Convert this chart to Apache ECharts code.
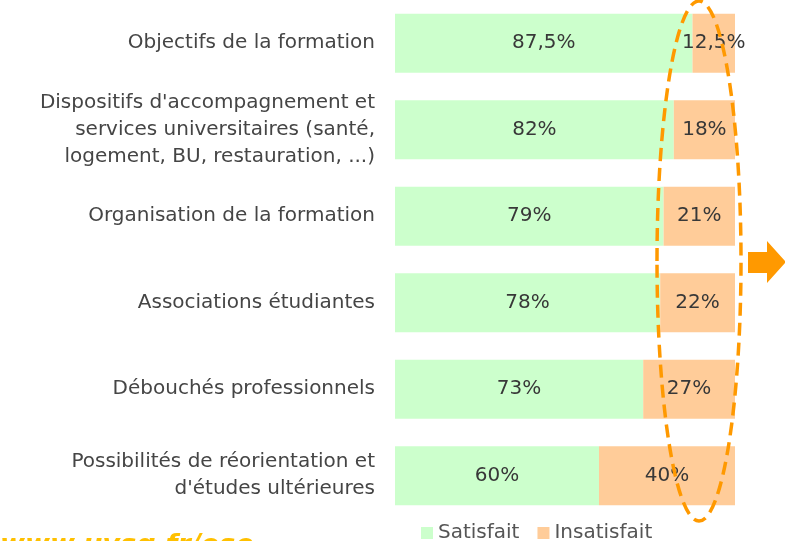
<!DOCTYPE html>
<html>
<head>
<meta charset="utf-8">
<script src="https://cdn.jsdelivr.net/npm/echarts@6/dist/echarts.min.js"></script>
<style>
  html, body { margin: 0; padding: 0; background: #fff; }
  #chart { width: 785px; height: 541px; }
</style>
</head>
<body>
<div id="chart"></div>
<script>
const categories = [
  "Objectifs de la formation",
  "Dispositifs d'accompagnement et\nservices universitaires (santé,\nlogement, BU, restauration, ...)",
  "Organisation de la formation",
  "Associations étudiantes",
  "Débouchés professionnels",
  "Possibilités de réorientation et\nd'études ultérieures"
];
const satisfait = [87.5, 82, 79, 78, 73, 60];
const insatisfait = [12.5, 18, 21, 22, 27, 40];

const font = "'DejaVu Sans', sans-serif";
const fmt = p => String(p.value).replace(".", ",") + "%";

const chart = echarts.init(document.getElementById("chart"));
chart.setOption({
  animation: false,
  textStyle: { fontFamily: font },
  grid: { left: 395, right: 50, top: -4, bottom: 22 },
  legend: {
    left: 416,
    top: 518,
    itemWidth: 12,
    itemHeight: 12,
    itemGap: 18,
    itemTextGap: 4,
    icon: "rect",
    textStyle: { color: "#555", fontSize: 20, fontFamily: font },
    data: ["Satisfait", "Insatisfait"]
  },
  xAxis: { type: "value", min: 0, max: 100, show: false },
  yAxis: {
    type: "category",
    inverse: true,
    data: categories,
    axisLine: { show: false },
    axisTick: { show: false },
    axisLabel: {
      margin: 20,
      color: "#454545",
      fontSize: 20,
      lineHeight: 27,
      align: "right",
      fontFamily: font
    }
  },
  series: [
    {
      name: "Satisfait",
      type: "bar",
      stack: "total",
      barCategoryGap: "32%",
      data: satisfait,
      itemStyle: { color: "#ccffcc" },
      label: { show: true, position: "inside", color: "#383838", fontSize: 20, formatter: fmt }
    },
    {
      name: "Insatisfait",
      type: "bar",
      stack: "total",
      data: insatisfait,
      itemStyle: { color: "#ffcc99" },
      label: { show: true, position: "inside", color: "#383838", fontSize: 20, formatter: fmt }
    }
  ],
  graphic: [
    {
      type: "ellipse",
      shape: { cx: 699, cy: 261, rx: 42, ry: 260 },
      style: { fill: "none", stroke: "#ff9900", lineWidth: 3.5, lineDash: [13, 7] },
      z: 100
    },
    {
      type: "polygon",
      shape: {
        points: [[748, 252], [767, 252], [767, 241], [786, 262], [767, 283], [767, 273], [748, 273]]
      },
      style: { fill: "#ff9900" },
      z: 100
    },
    {
      type: "text",
      left: 0,
      top: 532,
      style: {
        text: "www.uvsq.fr/ose",
        fill: "#ffc000",
        font: "italic bold 27px " + font
      }
    }
  ]
});
</script>
</body>
</html>
